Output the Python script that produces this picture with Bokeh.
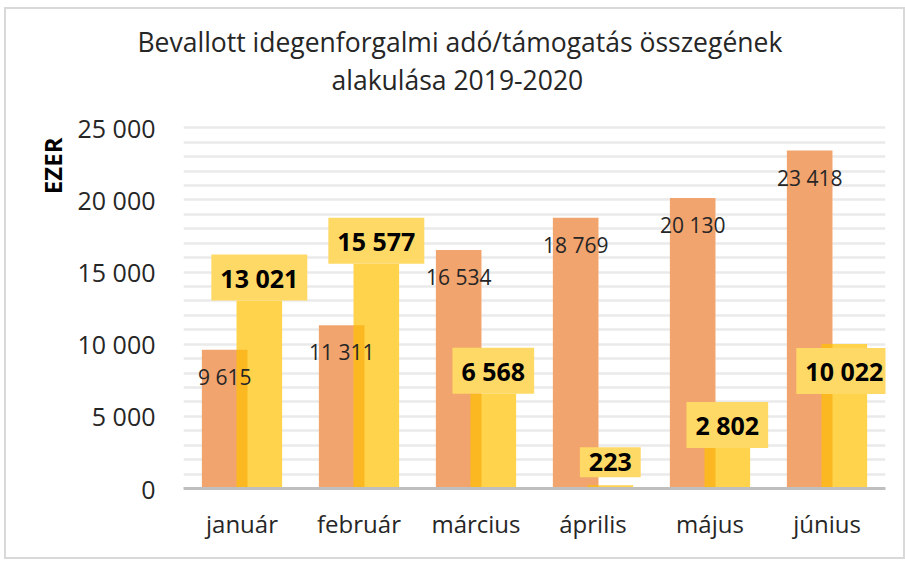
from bokeh.plotting import figure
from bokeh.models import (ColumnDataSource, FactorRange, Range1d, LabelSet, Title,
                          FixedTicker, CustomJSTickFormatter)
from bokeh.core.properties import value
from bokeh.transform import dodge
from bokeh.embed import file_html
from bokeh.resources import INLINE

# ---- data ----
months = ["január", "február", "március", "április", "május", "június"]
values_2019 = [9615, 11311, 16534, 18769, 20130, 23418]
values_2020 = [13021, 15577, 6568, 223, 2802, 10022]
title_lines = ["Bevallott idegenforgalmi adó/támogatás összegének", "alakulása 2019-2020"]
y_label = "EZER"
y_ticks = [0, 5000, 10000, 15000, 20000, 25000]

def fmt(v):
    return f"{v:,}".replace(",", " ")

FONT = "Open Sans"
BAR_W = 0.39
OFF = 0.148
Y_TOP = 27095          # range end leaves blank room above the 25 000 gridline
inside_2020 = ["június"]  # label drawn inside bar end

src = ColumnDataSource(dict(
    m=months, a=values_2019, b=values_2020,
    la=[fmt(v) for v in values_2019],
    lb=[fmt(v) for v in values_2020],
    lb_off=[27 if m in inside_2020 else -23 for m in months],
))

p = figure(x_range=FactorRange(*months, range_padding=0), y_range=Range1d(0, Y_TOP),
           width=901, height=552, output_backend="svg", toolbar_location=None,
           min_border_left=177, min_border_right=22, min_border_top=88, min_border_bottom=73)
p.margin = (7, 0, 0, 4)
p.outline_line_color = None
p.styles = {"border": "2px solid #D9D9D9"}

# white underlays so gridlines don't show through translucent bars
p.vbar(x=dodge("m", -OFF, range=p.x_range), top="a", width=BAR_W, source=src,
       fill_color="white", line_color=None)
p.vbar(x=dodge("m", OFF, range=p.x_range), top="b", width=BAR_W, source=src,
       fill_color="white", line_color=None)
p.vbar(x=dodge("m", -OFF, range=p.x_range), top="a", width=BAR_W, source=src,
       fill_color="#ED7D31", fill_alpha=0.7, line_color=None)
p.vbar(x=dodge("m", OFF, range=p.x_range), top="b", width=BAR_W, source=src,
       fill_color="#FFC000", fill_alpha=0.7, line_color=None)

# labels 2019 (inside end)
p.add_layout(LabelSet(x=dodge("m", -OFF, range=p.x_range), y="a", text="la", source=src,
                      y_offset=-27, text_align="center", text_baseline="middle",
                      text_font=value(FONT), text_font_size="21px", text_color="#262626"))
# labels 2020 (boxed, bold)
p.text(x=dodge("m", OFF, range=p.x_range), y="b", text="lb", source=src,
       y_offset="lb_off", text_align="center", text_baseline="middle",
       text_font=value(FONT), text_font_size="25px", text_font_style="bold",
       text_color="#000000", background_fill_color="#FFD966", padding=(9, 6))

# axes
p.xaxis.axis_line_color = "#BFBFBF"
p.xaxis.axis_line_width = 3
p.xaxis.major_tick_line_color = None
p.xaxis.minor_tick_line_color = None
p.xaxis.major_tick_out = 0
p.xaxis.major_label_text_font = FONT
p.xaxis.major_label_text_font_size = "24px"
p.xaxis.major_label_text_color = "#262626"
p.xaxis.major_label_standoff = 18

p.yaxis.axis_line_color = None
p.yaxis.major_tick_line_color = None
p.yaxis.minor_tick_line_color = None
p.yaxis.major_tick_out = 0
p.yaxis.ticker = FixedTicker(ticks=y_ticks)
p.yaxis.formatter = CustomJSTickFormatter(code='return tick.toString().replace(/\\B(?=(\\d{3})+(?!\\d))/g, " ");')
p.yaxis.major_label_text_font = FONT
p.yaxis.major_label_text_font_size = "25px"
p.yaxis.major_label_text_color = "#262626"
p.yaxis.major_label_standoff = 28

p.xgrid.grid_line_color = None
p.ygrid.ticker = FixedTicker(ticks=list(range(0, 25001, 1000)))
p.ygrid.grid_line_color = "#EAEAEA"
p.ygrid.grid_line_width = 2.5

# title line 2 (closer to frame), line 1 as the outermost figure title
p.add_layout(Title(text=title_lines[1], align="left", offset=148, standoff=0,
                   text_font=FONT, text_font_size="26.5px", text_font_style="normal",
                   text_color="#262626"), "above")
p.title.text = title_lines[0]
p.title.align = "left"
p.title.offset = -46
p.title.standoff = 0
p.title.text_font = FONT
p.title.text_font_size = "26.5px"
p.title.text_font_style = "normal"
p.title.text_color = "#262626"
# y label near top of axis (offset measured from frame top)
p.add_layout(Title(text=y_label, align="right", offset=40, standoff=12,
                   text_font=FONT, text_font_size="24px", text_font_style="bold",
                   text_color="#000000"), "left")

open("out.html", "w").write(file_html(p, INLINE))
